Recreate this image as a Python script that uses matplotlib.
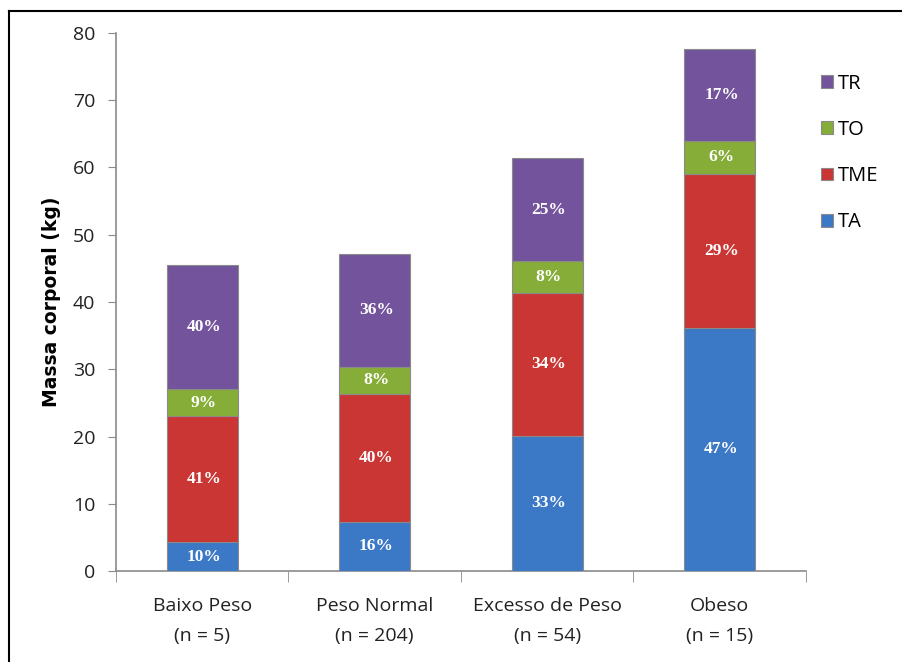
import matplotlib.pyplot as plt
from matplotlib.lines import Line2D
import numpy as np

grupos = ["Baixo Peso\n(n = 5)", "Peso Normal\n(n = 204)", "Excesso de Peso\n(n = 54)", "Obeso\n(n = 15)"]
ta = [4.3, 7.3, 20.1, 36.2]
tme = [18.8, 19.0, 21.3, 22.9]
to = [3.9, 4.1, 4.7, 4.9]
tr = [18.5, 16.7, 15.3, 13.6]
pct_ta = ["10%", "16%", "33%", "47%"]
pct_tme = ["41%", "40%", "34%", "29%"]
pct_to = ["9%", "8%", "8%", "6%"]
pct_tr = ["40%", "36%", "25%", "17%"]

series = [("TA", ta, pct_ta, "#3b78c6"),
          ("TME", tme, pct_tme, "#c93634"),
          ("TO", to, pct_to, "#85ad37"),
          ("TR", tr, pct_tr, "#73539c")]

fig = plt.figure(figsize=(9.03, 6.62), dpi=100)
ax = fig.add_axes([116/903, 1-571/662, 690/903, 538/662])

x = np.arange(len(grupos))
base = np.zeros(len(grupos))
handles = []
for nome, vals, pcts, cor in series:
    vals = np.array(vals)
    b = ax.bar(x, vals, 0.41, bottom=base, color=cor, edgecolor="#8a8a8a",
               linewidth=0.8, label=nome, zorder=3)
    handles.append(b)
    for xi, yb, v, p in zip(x, base, vals, pcts):
        ax.text(xi + 0.01, yb + v/2, p, ha="center", va="center", color="white",
                fontsize=12.5, fontweight="bold", family="Liberation Serif", zorder=4)
    base = base + vals

ax.set_xlim(-0.5, 3.5)
ax.set_ylim(0, 80)
ax.set_yticks(range(0, 81, 10))
ax.set_xticks(x)
ax.set_xticklabels(grupos, fontsize=14, family="Open Sans", linespacing=1.8, color="#222222")
ax.set_xticks(np.arange(-0.5, 4, 1), minor=True)
ax.tick_params(axis="x", which="major", length=0, pad=19)
ax.tick_params(axis="x", which="minor", length=8, color="#8a8a8a", direction="out")
ax.tick_params(axis="y", length=6, color="#8a8a8a", labelsize=14, pad=9, labelcolor="#222222")
for t in ax.get_yticklabels():
    t.set_family("Open Sans")
for s in ["top", "right"]:
    ax.spines[s].set_visible(False)
for s in ["left", "bottom"]:
    ax.spines[s].set_color("#8a8a8a")
    ax.spines[s].set_linewidth(1.2)

ax.set_ylabel("Massa corporal (kg)", fontsize=13.5, fontweight="bold")
ax.yaxis.set_label_coords(-55/690, 0.5)

leg = ax.legend(handles[::-1], [s[0] for s in series][::-1], loc="upper left",
                bbox_to_anchor=(0.995, 0.958), frameon=False,
                labelspacing=1.3, handlelength=0.6, handleheight=0.6, handletextpad=0.25,
                prop={"family": "Open Sans", "size": 14.5})

fig.add_artist(Line2D([9/903, 9/903], [0, 1-11/662], color="black", lw=1.5, transform=fig.transFigure))
fig.add_artist(Line2D([9/903, 1], [1-11/662, 1-11/662], color="black", lw=1.5, transform=fig.transFigure))

fig.savefig("out.png", dpi=100)
